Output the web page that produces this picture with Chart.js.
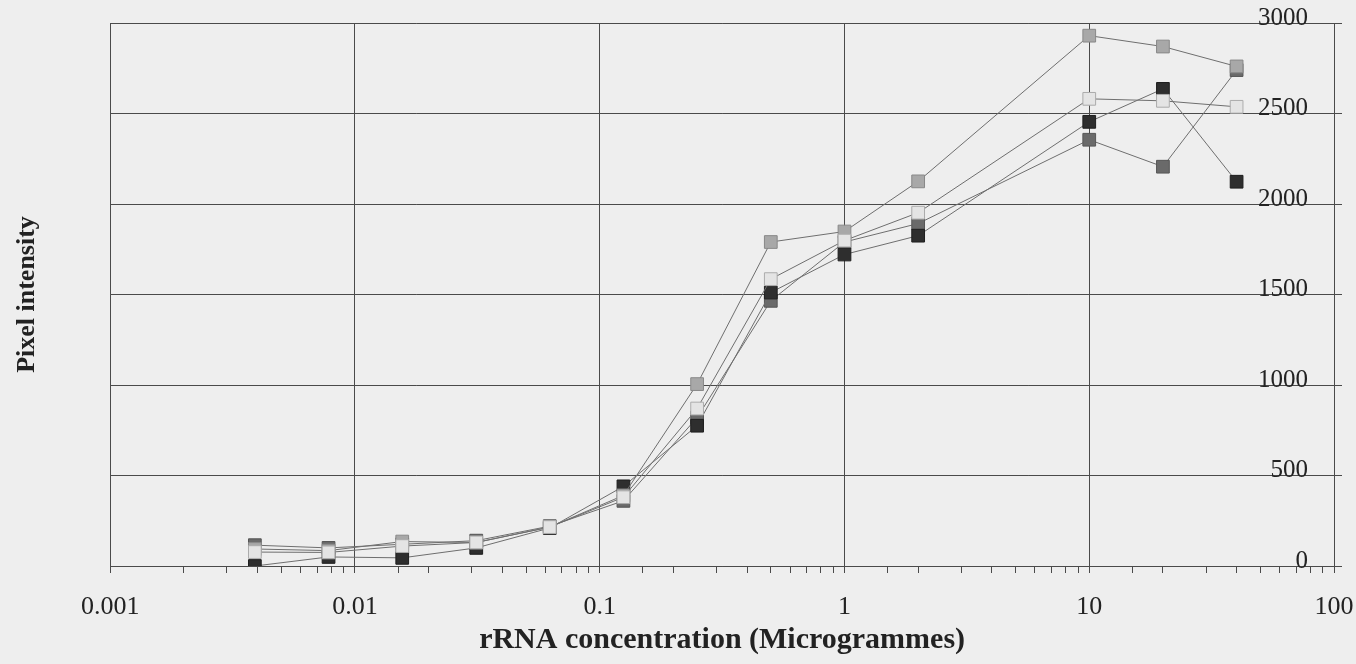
<!DOCTYPE html>
<html>
<head>
<meta charset="utf-8">
<script src="https://cdn.jsdelivr.net/npm/chart.js@4/dist/chart.umd.min.js"></script>
<style>
  html, body { margin: 0; padding: 0; background: #eeeeee; }
  #wrap { width: 1356px; height: 664px; }
</style>
</head>
<body>
<div id="wrap"><canvas id="chart" width="1356" height="664"></canvas></div>
<script>
// concentrations (micrograms)
const conc = [0.0039, 0.0078, 0.0156, 0.0313, 0.0625, 0.125, 0.25, 0.5, 1, 2, 10, 20, 40];

// pixel intensity, one array per series (by marker shade)
const seriesLight  = [77, 75, 110, 130, 215, 380, 870, 1585, 1798, 1952, 2581, 2570, 2537];
const seriesMedium = [94, 85, 135, 130, 215, 390, 1005, 1790, 1848, 2125, 2930, 2870, 2760];
const seriesBlack  = [0, 50, 45, 100, 210, 440, 775, 1511, 1721, 1825, 2454, 2636, 2123];
const seriesDark   = [115, 100, 120, 140, 220, 360, 820, 1465, 1790, 1892, 2355, 2206, 2740];

const xTitle = 'rRNA concentration (Microgrammes)';
const yTitle = 'Pixel intensity';

const pts = vals => vals.map((v, i) => ({ x: conc[i], y: v }));
const isDecade = v => Math.abs(Math.log10(v) - Math.round(Math.log10(v))) < 1e-9;

function series(vals, fill, edge) {
  return {
    data: pts(vals),
    borderColor: '#6e6e6e',
    borderWidth: 1,
    pointStyle: 'rect',
    pointRadius: 9,
    pointBackgroundColor: fill,
    pointBorderColor: edge,
    pointBorderWidth: 1,
    tension: 0
  };
}

const serif = 'Liberation Serif, Times New Roman, serif';

new Chart(document.getElementById('chart'), {
  type: 'line',
  data: {
    // first dataset is painted last (on top)
    datasets: [
      series(seriesLight, '#e4e4e4', '#ababab'),
      series(seriesMedium, '#a8a8a8', '#888888'),
      series(seriesBlack, '#2e2e2e', '#1e1e1e'),
      series(seriesDark, '#6a6a6a', '#555555')
    ]
  },
  options: {
    responsive: false,
    animation: false,
    layout: { padding: { top: 23, right: 14, bottom: 0, left: 0 } },
    plugins: { legend: { display: false }, tooltip: { enabled: false } },
    scales: {
      x: {
        type: 'logarithmic',
        min: 0.001,
        max: 100,
        border: { color: '#4a4a4a', width: 1 },
        grid: {
          color: c => (c.tick && isDecade(c.tick.value)) ? '#4a4a4a' : 'rgba(0,0,0,0)',
          tickColor: '#4a4a4a',
          tickLength: 7,
          lineWidth: 1
        },
        ticks: {
          autoSkip: false,
          maxRotation: 0,
          padding: 19,
          color: '#222',
          font: { family: serif, size: 26 },
          callback: v => isDecade(v) ? String(Number(v)) : ''
        },
        title: {
          display: true,
          text: xTitle,
          color: '#222',
          font: { family: serif, size: 30, weight: 'bold' },
          padding: { top: 1, bottom: 6 }
        },
        afterFit: s => { s.height = 98; s.paddingLeft = 0; s.paddingRight = 0; }
      },
      y: {
        position: 'right',
        min: 0,
        max: 3000,
        border: { color: '#4a4a4a', width: 1 },
        grid: { color: '#4a4a4a', tickColor: '#4a4a4a', tickLength: 8, lineWidth: 1 },
        ticks: {
          stepSize: 500,
          mirror: true,
          padding: -26,
          labelOffset: -5,
          color: '#222',
          font: { family: serif, size: 25 },
          callback: v => String(v)
        },
        afterFit: s => { s.width = 8; s.paddingTop = 0; s.paddingBottom = 0; }
      },
      yLabel: {
        type: 'linear',
        position: 'left',
        display: true,
        grid: { display: false, drawTicks: false },
        border: { display: false },
        ticks: { display: false },
        title: {
          display: true,
          text: yTitle,
          color: '#222',
          font: { family: serif, size: 26, weight: 'bold' },
          padding: { top: 12, bottom: 67 }
        },
        afterFit: s => { s.paddingTop = 0; s.paddingBottom = 0; }
      }
    }
  }
});
</script>
</body>
</html>
